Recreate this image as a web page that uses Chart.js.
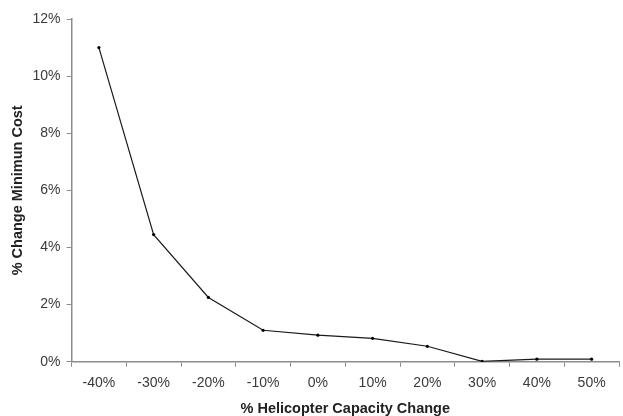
<!DOCTYPE html>
<html>
<head>
<meta charset="utf-8">
<script src="https://cdn.jsdelivr.net/npm/chart.js@4"></script>
<style>
  html, body { margin: 0; padding: 0; background: #fff; }
  #wrap { width: 623px; height: 416px; }
</style>
</head>
<body>
<div id="wrap"><canvas id="lineChart" width="623" height="416"></canvas></div>
<script>
// % change in helicopter capacity vs % change in minimum cost
const capacityChange = ['-40%', '-30%', '-20%', '-10%', '0%', '10%', '20%', '30%', '40%', '50%'];
const costChange = [11.0, 4.45, 2.25, 1.1, 0.93, 0.82, 0.54, 0.01, 0.09, 0.09];
const yTicks = [0, 2, 4, 6, 8, 10, 12];

const axisGray = '#8c8c8c';
const textColor = '#3a3a3a';

const ctx = document.getElementById('lineChart').getContext('2d');

new Chart(ctx, {
    type: 'line',
    data: {
        labels: capacityChange,
        datasets: [{
            data: costChange,
            borderColor: '#1a1a1a',
            borderWidth: 1.2,
            pointRadius: 1.6,
            pointBackgroundColor: '#000',
            pointBorderWidth: 0,
            tension: 0,
            fill: false
        }]
    },
    options: {
        responsive: false,
        animation: false,
        layout: { padding: { top: 19, right: -3, left: 5, bottom: 0 } },
        plugins: {
            legend: { display: false },
            tooltip: { enabled: false }
        },
        scales: {
            x: {
                offset: true,
                grid: {
                    offset: true,
                    drawOnChartArea: false,
                    drawTicks: true,
                    tickLength: 5,
                    color: axisGray
                },
                border: { color: axisGray, width: 1.5 },
                ticks: {
                    color: textColor,
                    font: { family: 'Liberation Sans, Arial', size: 14 },
                    padding: 8,
                    maxRotation: 0
                },
                title: {
                    display: true,
                    text: '% Helicopter Capacity Change',
                    color: '#222',
                    font: { family: 'Liberation Sans, Arial', size: 14.5, weight: 'bold', lineHeight: 1 },
                    padding: { top: 2, bottom: 0 }
                }
            },
            y: {
                min: 0,
                max: 12,
                afterBuildTicks: axis => { axis.ticks = yTicks.map(v => ({ value: v })); },
                grid: {
                    drawOnChartArea: false,
                    drawTicks: true,
                    tickLength: 5,
                    color: axisGray
                },
                border: { color: axisGray, width: 1.5 },
                ticks: {
                    color: textColor,
                    font: { family: 'Liberation Sans, Arial', size: 14 },
                    padding: 6,
                    callback: v => v + '%'
                },
                title: {
                    display: true,
                    text: '% Change Minimun Cost',
                    color: '#222',
                    font: { family: 'Liberation Sans, Arial', size: 14.5, weight: 'bold', lineHeight: 1 },
                    padding: { top: 6, bottom: 1 }
                }
            }
        }
    }
});
</script>
</body>
</html>
